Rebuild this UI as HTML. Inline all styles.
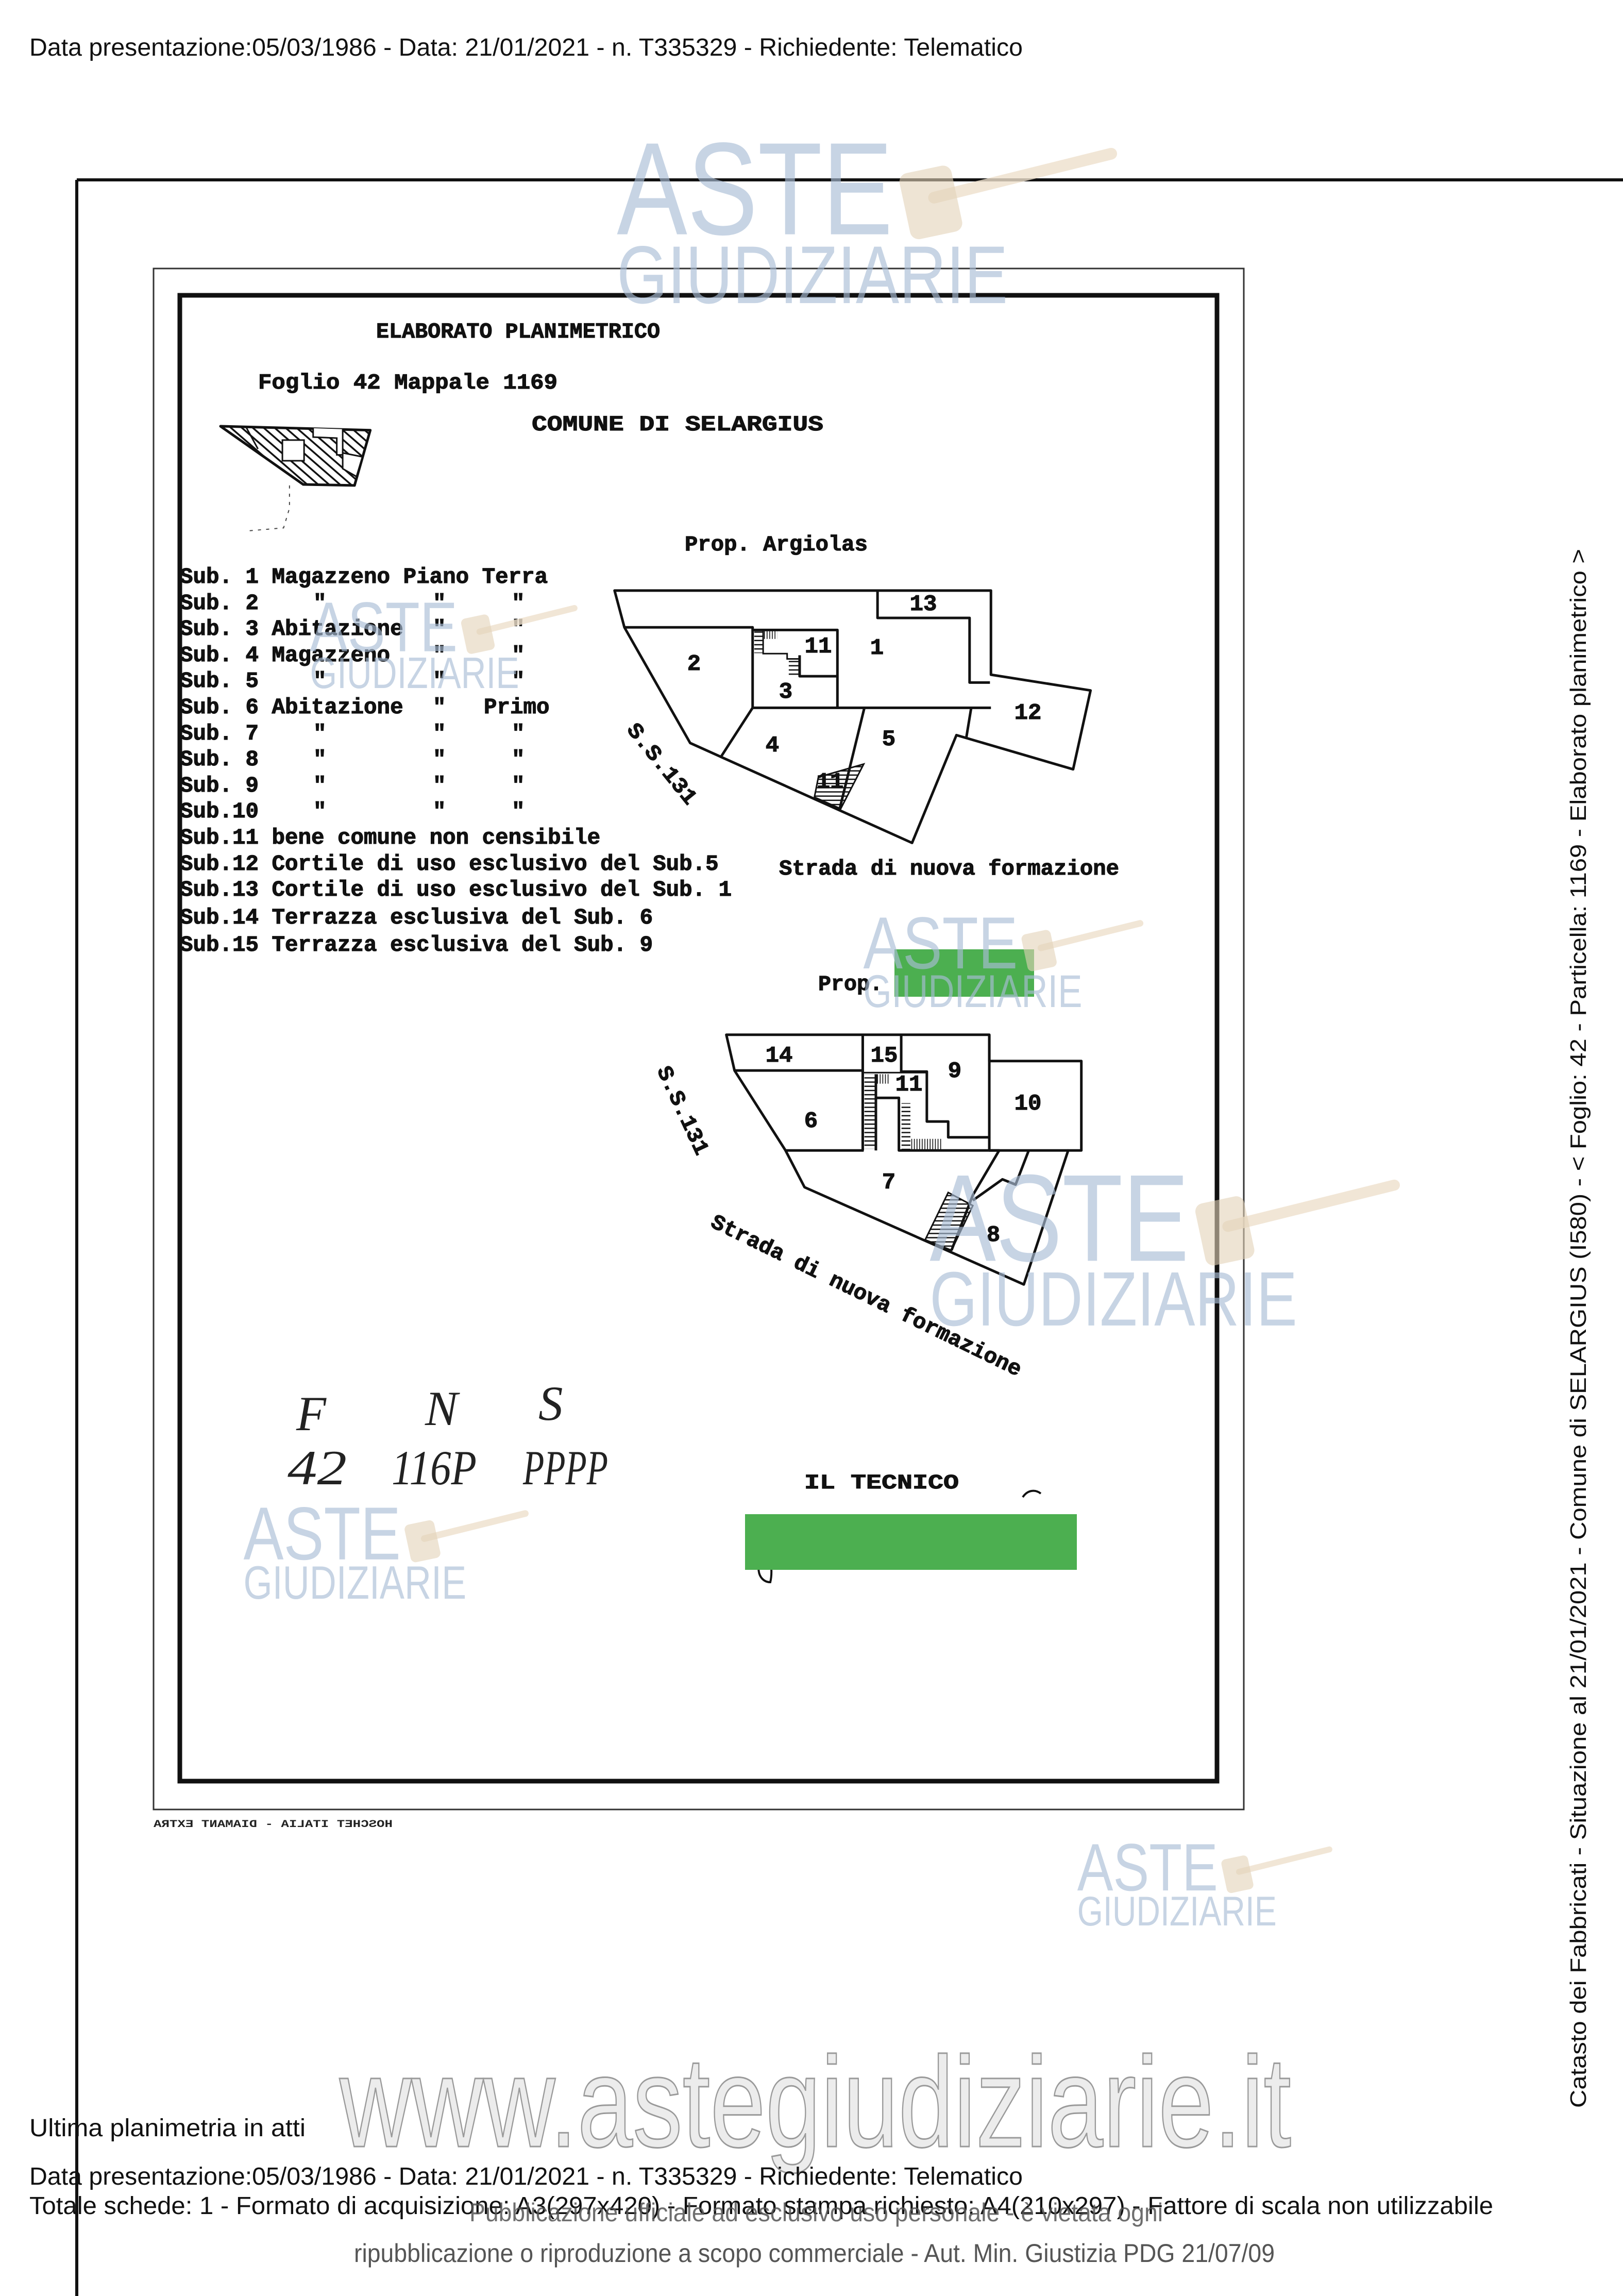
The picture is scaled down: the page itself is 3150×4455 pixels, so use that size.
<!DOCTYPE html>
<html><head><meta charset="utf-8"><style>
html,body{margin:0;padding:0;background:#fff;}
svg{display:block;}
.m{font-family:"Liberation Mono",monospace;font-weight:bold;fill:#111;stroke:#111;stroke-width:1.2;}
.s{font-family:"Liberation Sans",sans-serif;fill:#111;}
.p{fill:none;stroke:#111;stroke-width:5;vector-effect:non-scaling-stroke;stroke-linejoin:round;}
.t{fill:none;stroke:#111;stroke-width:3;vector-effect:non-scaling-stroke;}
</style></head><body>
<svg width="3150" height="4455" viewBox="0 0 3150 4455" xmlns="http://www.w3.org/2000/svg">
<defs>
<pattern id="hh" width="8" height="8" patternUnits="userSpaceOnUse"><line x1="0" y1="4" x2="8" y2="4" stroke="#111" stroke-width="2.5"/></pattern>
<pattern id="hv" width="8" height="8" patternUnits="userSpaceOnUse"><line x1="4" y1="0" x2="4" y2="8" stroke="#111" stroke-width="2.5"/></pattern>
<pattern id="hd" width="24" height="24" patternUnits="userSpaceOnUse" patternTransform="rotate(60)"><line x1="0" y1="12" x2="24" y2="12" stroke="#111" stroke-width="6"/></pattern>
<g id="wm">
<text x="0" y="65" font-family="Liberation Sans,sans-serif" font-size="90" textLength="187" lengthAdjust="spacingAndGlyphs" fill="#a9bdd6" fill-opacity="0.65">ASTE</text>
<text x="0" y="112" font-family="Liberation Sans,sans-serif" font-size="56" textLength="265" lengthAdjust="spacingAndGlyphs" fill="#a9bdd6" fill-opacity="0.65">GIUDIZIARIE</text>
<line x1="215" y1="40" x2="335" y2="10" stroke="#eee0cc" stroke-width="8" stroke-linecap="round" opacity="0.8"/>
<rect x="195" y="20" width="36" height="46" rx="6" fill="#e3d2b8" opacity="0.6" transform="rotate(-12 214 44)"/>
</g>
</defs>
<rect width="3150" height="4455" fill="#fff"/>

<text class="s" x="57" y="108" font-size="48" textLength="1928" lengthAdjust="spacingAndGlyphs">Data presentazione:05/03/1986 - Data: 21/01/2021 - n. T335329 - Richiedente: Telematico</text>
<line x1="149" y1="349" x2="3150" y2="349" stroke="#111" stroke-width="6"/>
<line x1="149" y1="349" x2="149" y2="4455" stroke="#111" stroke-width="6"/>

<rect x="298" y="521" width="2116" height="2990" fill="none" stroke="#333" stroke-width="3"/>
<rect x="349" y="573" width="2013" height="2883" fill="none" stroke="#111" stroke-width="9"/>
<text x="0" y="0" font-family="Liberation Mono,monospace" font-weight="bold" font-size="20" fill="#222" transform="translate(762,3545) scale(-1,1)" textLength="464" lengthAdjust="spacingAndGlyphs">HOSCHET ITALIA - DIAMANT EXTRA</text>

<text class="m" x="730" y="655" font-size="42" textLength="551" lengthAdjust="spacingAndGlyphs">ELABORATO PLANIMETRICO</text>
<text class="m" x="501" y="754" font-size="42" textLength="581" lengthAdjust="spacingAndGlyphs">Foglio 42  Mappale 1169</text>
<text class="m" x="1032" y="835" font-size="42" textLength="566" lengthAdjust="spacingAndGlyphs">COMUNE  DI   SELARGIUS</text>
<text class="m" x="1329" y="1068" font-size="42" textLength="355" lengthAdjust="spacingAndGlyphs">Prop. Argiolas</text>

<g transform="translate(340,580) scale(0.765,0.383)">
<path d="M115,645 L495,665 L455,945 L325,940 Z" style="fill:url(#hd)" class="p"/>
<path d="M180,650 L210,760" class="t"/>
<rect x="272" y="715" width="55" height="105" style="fill:#fff" class="t"/>
<path d="M350,655 L350,700 L410,705 L410,790 L425,790 L425,660" style="fill:#fff" class="t"/>
<path d="M425,780 L475,800 L460,900 L425,860 Z" style="fill:#fff" class="t"/>
<path d="M290,945 L290,1060 L275,1160 L185,1175" fill="none" stroke="#444" stroke-width="2" stroke-dasharray="6 10" vector-effect="non-scaling-stroke"/>
</g>

<g class="m" font-size="42.5">
<text x="349" y="1131">Sub. 1 Magazzeno Piano Terra</text>
<text x="349" y="1182">Sub. 2</text>
<text x="349" y="1232">Sub. 3 Abitazione</text>
<text x="349" y="1283">Sub. 4 Magazzeno</text>
<text x="349" y="1333">Sub. 5</text>
<text x="349" y="1384">Sub. 6 Abitazione</text>
<text x="349" y="1435">Sub. 7</text>
<text x="349" y="1485">Sub. 8</text>
<text x="349" y="1536">Sub. 9</text>
<text x="349" y="1586">Sub.10</text>
<text x="349" y="1637">Sub.11 bene comune non censibile</text>
<text x="349" y="1688">Sub.12 Cortile di uso esclusivo del Sub.5</text>
<text x="349" y="1738">Sub.13 Cortile di uso esclusivo del Sub. 1</text>
<text x="349" y="1792">Sub.14 Terrazza esclusiva del Sub. 6</text>
<text x="349" y="1845">Sub.15 Terrazza esclusiva del Sub. 9</text>
<text x="939" y="1384">Primo</text>
<g>
<text x="608" y="1182">"</text><text x="840" y="1182">"</text><text x="993" y="1182">"</text>
<text x="840" y="1232">"</text><text x="993" y="1232">"</text>
<text x="840" y="1283">"</text><text x="993" y="1283">"</text>
<text x="608" y="1333">"</text><text x="840" y="1333">"</text><text x="993" y="1333">"</text>
<text x="840" y="1384">"</text>
<text x="608" y="1435">"</text><text x="840" y="1435">"</text><text x="993" y="1435">"</text>
<text x="608" y="1485">"</text><text x="840" y="1485">"</text><text x="993" y="1485">"</text>
<text x="608" y="1536">"</text><text x="840" y="1536">"</text><text x="993" y="1536">"</text>
<text x="608" y="1586">"</text><text x="840" y="1586">"</text><text x="993" y="1586">"</text>
</g>
</g>

<g transform="translate(1180,1100) scale(0.638,1.02)">
<path class="p" d="M20,45 L1165,45 L1165,205 L1468,235 L1415,385 L1060,320 L925,525 L250,335 L50,115 Z"/>
<path class="p" d="M820,45 L820,97 L1100,97 L1100,220 L1162,220"/>
<path class="p" d="M50,115 L440,115 L440,268 L1165,268"/>
<path class="p" d="M440,120 L698,120 L698,268"/>
<path class="p" d="M583,168 L583,208 L698,208"/>
<path class="t" d="M472,120 L472,165 L545,165 L545,175 L583,175"/>
<rect x="445" y="122" width="27" height="42" fill="url(#hh)"/>
<rect x="472" y="122" width="43" height="15" fill="url(#hv)"/>
<rect x="550" y="176" width="33" height="32" fill="url(#hh)"/>
<path class="p" d="M440,268 L345,360"/>
<path class="p" d="M780,268 L705,460"/>
<path class="p" d="M1105,268 L1090,325"/>
<path d="M640,400 L778,375 L708,460 L628,438 Z" style="fill:url(#hh)" class="t"/>
<path class="p" d="M360,890 L1160,890 L1160,940 L1440,940 L1440,1110 L1400,1110 L1265,1365 L598,1180 L540,1110 L385,958 Z"/>
<path class="p" d="M385,958 L775,958"/>
<path class="p" d="M775,890 L775,1110"/>
<path class="p" d="M892,890 L892,960 L970,960 L970,1055 L1035,1055 L1035,1085 L1160,1085 L1160,890"/>
<path class="p" d="M1160,1085 L1160,1110 L1400,1110"/>
<path class="p" d="M540,1110 L778,1110"/>
<path class="p" d="M815,965 L815,1110 M815,1010 L885,1010 L885,1110 L1190,1110 L1110,1195 L1045,1300"/>
<path class="p" d="M1110,1205 L1200,1165 L1240,1175 L1280,1110"/>
<path class="t" d="M775,962 L970,962"/>
<rect x="780" y="965" width="32" height="142" fill="url(#hh)"/>
<rect x="815" y="965" width="40" height="18" fill="url(#hv)"/>
<rect x="893" y="1020" width="27" height="88" fill="url(#hh)"/>
<rect x="920" y="1088" width="95" height="20" fill="url(#hv)"/>
<path d="M1035,1190 L1110,1215 L1045,1300 L965,1280 Z" style="fill:url(#hh)" class="t"/>
</g>
<g class="m" font-size="44" text-anchor="middle" dominant-baseline="central">
<text x="1792" y="1173">13</text><text x="1702" y="1258">1</text><text x="1347" y="1289">2</text>
<text x="1588" y="1255">11</text><text x="1525" y="1343">3</text><text x="1995" y="1384">12</text>
<text x="1499" y="1447">4</text><text x="1725" y="1435">5</text><text x="1611" y="1518">11</text>
<text x="1512" y="2049">14</text><text x="1716" y="2049">15</text><text x="1764" y="2105">11</text>
<text x="1853" y="2079">9</text><text x="1995" y="2142">10</text><text x="1574" y="2176">6</text>
<text x="1725" y="2295">7</text><text x="1928" y="2397">8</text>
</g>
<text class="m" x="1512" y="1697" font-size="42" textLength="660" lengthAdjust="spacingAndGlyphs">Strada di nuova formazione</text>
<text class="m" font-size="42" text-anchor="middle" transform="translate(1275,1490) rotate(51)" textLength="190" lengthAdjust="spacingAndGlyphs">S.S.131</text>
<text class="m" font-size="42" text-anchor="middle" transform="translate(1314,2160) rotate(65)" textLength="185" lengthAdjust="spacingAndGlyphs">S.S.131</text>
<text class="m" font-size="42" text-anchor="middle" transform="translate(1676,2525) rotate(26)" textLength="665" lengthAdjust="spacingAndGlyphs">Strada di nuova formazione</text>
<text class="m" x="1588" y="1921" font-size="42" textLength="125" lengthAdjust="spacingAndGlyphs">Prop.</text>

<g font-family="Liberation Serif,serif" font-style="italic" fill="#222" font-size="95">
<text x="575" y="2775">F</text><text x="825" y="2765">N</text><text x="1045" y="2755">S</text>
<text x="558" y="2880" textLength="115" lengthAdjust="spacingAndGlyphs">42</text>
<text x="760" y="2880" textLength="165" lengthAdjust="spacingAndGlyphs">116P</text>
<text x="1015" y="2880" textLength="165" lengthAdjust="spacingAndGlyphs">PPPP</text>
</g>
<text class="m" x="1561" y="2888" font-size="40" textLength="300" lengthAdjust="spacingAndGlyphs">IL   TECNICO</text>
<path d="M1495,3010 C1460,3030 1470,3070 1495,3070 C1500,3050 1495,3030 1495,3010" fill="none" stroke="#111" stroke-width="4"/>
<path d="M1985,2905 C1995,2890 2010,2890 2020,2898" fill="none" stroke="#111" stroke-width="4"/>

<rect x="1736" y="1842" width="271" height="92" fill="#4caf50"/>
<rect x="1446" y="2938" width="644" height="108" fill="#4caf50"/>

<g transform="scale(2.864,2.841)">
<use href="#wm" transform="translate(418,95)"/>
<use href="#wm" transform="translate(210,410) scale(0.535)"/>
<use href="#wm" transform="translate(585,625) scale(0.56)"/>
<use href="#wm" transform="translate(630,800) scale(0.94)"/>
<use href="#wm" transform="translate(165,1028) scale(0.57)"/>
<use href="#wm" transform="translate(730,1258) scale(0.51)"/>
</g>

<text class="s" font-size="44" transform="translate(3078,4090) rotate(-90)" textLength="3025" lengthAdjust="spacingAndGlyphs">Catasto dei Fabbricati - Situazione al 21/01/2021 - Comune di SELARGIUS (I580) - &lt; Foglio: 42 - Particella: 1169 - Elaborato planimetrico &gt;</text>

<text x="659" y="4165" font-family="Liberation Sans,sans-serif" font-size="250" fill="#ececec" stroke="#9a9a9a" stroke-width="3" textLength="1847" lengthAdjust="spacingAndGlyphs">www.astegiudiziarie.it</text>

<text class="s" x="57" y="4145" font-size="48" textLength="536" lengthAdjust="spacingAndGlyphs">Ultima planimetria in atti</text>
<text class="s" x="57" y="4239" font-size="48" textLength="1928" lengthAdjust="spacingAndGlyphs">Data presentazione:05/03/1986 - Data: 21/01/2021 - n. T335329 - Richiedente: Telematico</text>
<text class="s" x="57" y="4296" font-size="48" textLength="2841" lengthAdjust="spacingAndGlyphs">Totale schede: 1 - Formato di acquisizione: A3(297x420) - Formato stampa richiesto: A4(210x297) - Fattore di scala non utilizzabile</text>
<text x="911" y="4310" font-family="Liberation Sans,sans-serif" font-size="50" fill="#555" fill-opacity="0.85" textLength="1346" lengthAdjust="spacingAndGlyphs">Pubblicazione ufficiale ad esclusivo uso personale - è vietata ogni</text>
<text x="687" y="4389" font-family="Liberation Sans,sans-serif" font-size="50" fill="#555" textLength="1787" lengthAdjust="spacingAndGlyphs">ripubblicazione o riproduzione a scopo commerciale - Aut. Min. Giustizia PDG 21/07/09</text>
</svg>
</body></html>
